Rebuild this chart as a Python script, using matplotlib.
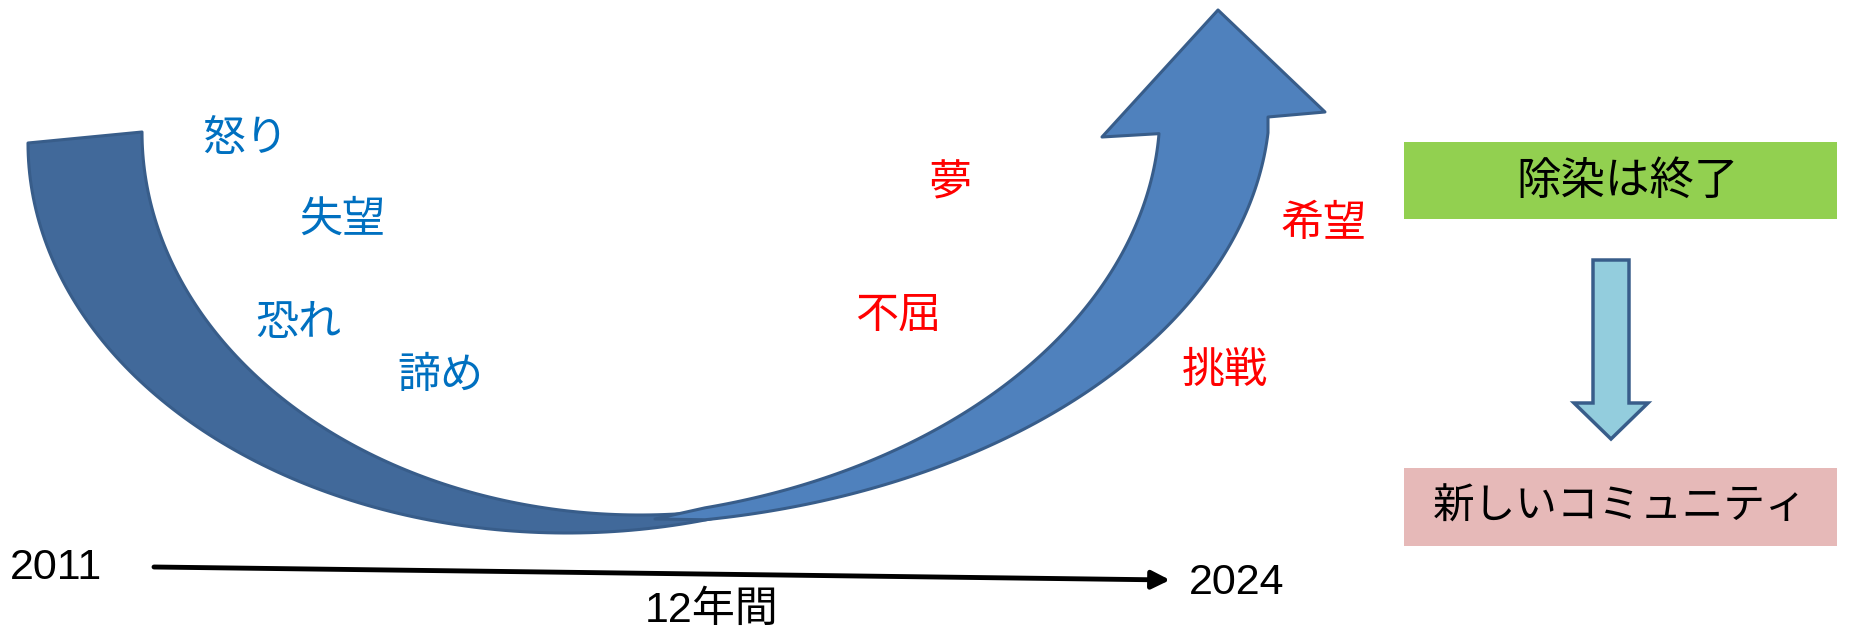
import numpy as np
import matplotlib
matplotlib.use("Agg")
import matplotlib.pyplot as plt
from matplotlib.patches import Polygon, Rectangle

# ---- text content ----
dark_words = ['怒り', '失望', '恐れ', '諦め']      # the years of loss
bright_words = ['夢', '不屈', '希望', '挑戦']      # the years of recovery
years = ['2011', '2024']
span_label = '12年間'
steps = ['除染は終了', '新しいコミュニティ']

# ---- layout (pixel coords of a 1853x628 canvas) ----
dark_xy = [(245, 139), (342, 220), (298, 323), (440, 376)]
bright_xy = [(950, 183), (898, 316), (1323, 224), (1225, 371)]

BLUE_TXT = '#0070C0'
RED_TXT = '#FF0000'
EDGE = '#385D8A'
BACK_FILL = '#41699A'
FRONT_FILL = '#4F81BD'

JP = ['Noto Sans CJK JP', 'DejaVu Sans']
LAT = ['Liberation Sans', 'Noto Sans CJK JP']


def arc(cx, cy, a, b, x_from, x_to, n=120):
    # piece of the lower half of an ellipse, walked from x_from to x_to
    def t_of(x):
        return np.arccos(np.clip((x - cx) / a, -1, 1))
    t = np.linspace(t_of(x_from), t_of(x_to), n)
    return np.column_stack([cx + a * np.cos(t), cy + b * np.sin(t)])


fig = plt.figure(figsize=(18.53, 6.28), dpi=100)
ax = fig.add_axes([0, 0, 1, 1])
ax.set_xlim(0, 1853)
ax.set_ylim(628, 0)
ax.axis('off')

# ---- big curved arrow: back (falling) band ----
outer = arc(567, 143, 539, 390, 28, 722)
inner = arc(640, 132, 498, 383, 142, 700)
back = np.vstack([outer, inner[::-1]])
ax.add_patch(Polygon(back, closed=True, facecolor=BACK_FILL, edgecolor=EDGE,
                     lw=2.2, joinstyle='round'))

# ---- front (rising) band with head, tapering to a point at the crossing ----
tip = [(655, 519)]
f_inner = arc(560, 110, 600, 410, 705, 1159)
f_outer = arc(600, 100, 670, 425, 1268, 705)
head = [(1102, 137), (1218, 10), (1325, 112), (1268, 117)]
front = np.vstack([tip, f_inner, head, f_outer])
ax.add_patch(Polygon(front, closed=True, facecolor=FRONT_FILL, edgecolor=EDGE,
                     lw=2.2, joinstyle='round'))

for w, (x, y) in zip(dark_words, dark_xy):
    ax.text(x, y, w, color=BLUE_TXT, fontsize=31, family=JP, ha='center', va='center')
for w, (x, y) in zip(bright_words, bright_xy):
    ax.text(x, y, w, color=RED_TXT, fontsize=31, family=JP, ha='center', va='center')

# ---- timeline ----
ax.annotate('', xy=(1170, 580), xytext=(154, 567),
            arrowprops=dict(arrowstyle='-|>,head_length=0.4,head_width=0.2',
                            lw=3.5, color='black', mutation_scale=27,
                            shrinkA=0, shrinkB=0))
ax.text(56, 568, years[0], fontsize=31, family=LAT, ha='center', va='center')
ax.text(1237, 583, years[1], fontsize=31, family=LAT, ha='center', va='center')
ax.text(712, 611, span_label, fontsize=31, family=LAT, ha='center', va='center')

# ---- right column: boxes and down arrow ----
ax.add_patch(Rectangle((1404, 142), 433, 77, facecolor='#92D050', edgecolor='none'))
ax.text(1628, 181, steps[0], fontsize=32, family=JP, ha='center', va='center')

down = [(1593, 260), (1629, 260), (1629, 403), (1648, 403), (1611, 439),
        (1574, 403), (1593, 403)]
ax.add_patch(Polygon(down, closed=True, facecolor='#93CDDD', edgecolor=EDGE, lw=2.5))

ax.add_patch(Rectangle((1404, 468), 433, 78, facecolor='#E6B9B8', edgecolor='none'))
ax.text(1620, 507, steps[1], fontsize=30, family=JP, ha='center', va='center')

fig.savefig('out.png', dpi=100, facecolor='white')
